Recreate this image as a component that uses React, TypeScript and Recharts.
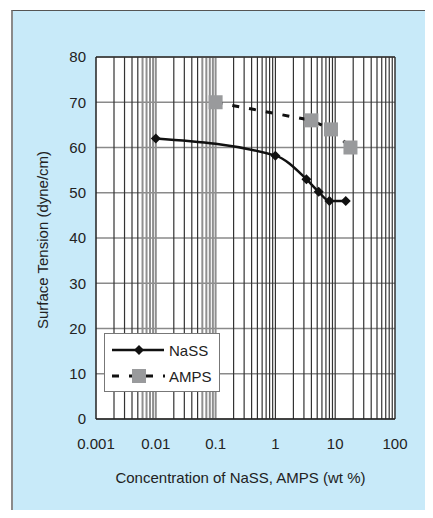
import { LineChart, Line, XAxis, YAxis, CartesianGrid, ReferenceLine } from 'recharts';

// Surface tension vs. concentration
const nassConc = [0.01, 1, 3.3, 5.3, 8, 15];
const nassTension = [62, 58.2, 53, 50.2, 48.2, 48.2];
const ampsConc = [0.1, 4, 8.5, 18];
const ampsTension = [70, 66, 64, 60];

const xTicks = [0.001, 0.01, 0.1, 1, 10, 100];
const yTicks = [0, 10, 20, 30, 40, 50, 60, 70, 80];
const decades = [0.001, 0.01, 0.1, 1, 10];
const multipliers = [2, 3, 4, 5, 6, 7, 8, 9];

const nassData = nassConc.map((x, i) => ({ x, nass: nassTension[i] }));
const ampsData = ampsConc.map((x, i) => ({ x, amps: ampsTension[i] }));

// minor log gridlines; the scanned original has some of them in a thick grey
const gridLines = decades.flatMap((d) => [
  ...multipliers.map((m) => ({ x: +(d * m).toPrecision(3), grey: d < 0.1 && m >= 6 })),
  ...(d > 0.001 ? [{ x: d, grey: d < 1 }] : []),
]);

const font = 'Liberation Sans, Arial, Helvetica, sans-serif';

const Diamond = ({ cx, cy }: any) =>
  cx == null ? null : <polygon points={`${cx},${cy - 5} ${cx + 5},${cy} ${cx},${cy + 5} ${cx - 5},${cy}`} fill="#111" />;

const Square = ({ cx, cy }: any) =>
  cx == null ? null : <rect x={cx - 7} y={cy - 7} width={14} height={14} fill="#999a9c" />;

const LegendBox = () => (
  <div style={{ position: 'absolute', left: 104, top: 333, background: '#fff', border: '1.5px solid #777', width: 116, height: 59, boxSizing: 'border-box', fontFamily: font, fontSize: 15, color: '#222' }}>
    <div style={{ display: 'flex', alignItems: 'center', height: 28, marginTop: 2 }}>
      <svg width={64} height={14}>
        <line x1={7} y1={7} x2={59} y2={7} stroke="#111" strokeWidth={2.5} />
        <polygon points="34,2 39,7 34,12 29,7" fill="#111" />
      </svg>
      <span>NaSS</span>
    </div>
    <div style={{ display: 'flex', alignItems: 'center', height: 24 }}>
      <svg width={64} height={16}>
        <line x1={7} y1={8} x2={60} y2={8} stroke="#111" strokeWidth={3} strokeDasharray="7 10" />
        <rect x={27} y={1} width={14} height={14} fill="#999a9c" />
      </svg>
      <span>AMPS</span>
    </div>
  </div>
);

export default function App() {
  return (
    <div style={{ position: 'relative', width: 433, height: 518, margin: -8, overflow: 'hidden', background: '#fff' }}>
      <div style={{ position: 'absolute', left: 11, top: 10, width: 440, height: 520, background: '#c8eaf9', borderLeft: '2px solid #8a8a8a', borderTop: '1px solid #555' }} />
      <div style={{ position: 'absolute', left: 0, top: 0 }}>
        <LineChart width={433} height={518} margin={{ top: 57, right: 38, bottom: 69, left: 0 }}>
          <CartesianGrid vertical={false} fill="#fff" stroke="#8a8a8a" strokeWidth={1.5} />
          {gridLines.map((g) => (
            <ReferenceLine key={g.x} x={g.x} stroke={g.grey ? '#8f8f8f' : '#333'} strokeWidth={g.grey ? 2 : 1.2} ifOverflow="hidden" />
          ))}
          <ReferenceLine y={80} stroke="#333" strokeWidth={1.5} />
          <ReferenceLine x={100} stroke="#333" strokeWidth={1.5} />
          <XAxis
            dataKey="x"
            type="number"
            scale="log"
            domain={[0.001, 100]}
            ticks={xTicks}
            allowDataOverflow
            height={30}
            tickLine={false}
            tickSize={0}
            tickMargin={19}
            axisLine={{ stroke: '#222', strokeWidth: 1.5 }}
            tick={{ fill: '#222', fontSize: 15, fontFamily: font }}
            tickFormatter={(v: number) => String(v)}
          />
          <YAxis
            type="number"
            domain={[0, 80]}
            ticks={yTicks}
            width={96}
            tickLine={false}
            tickSize={0}
            tickMargin={10}
            axisLine={{ stroke: '#222', strokeWidth: 1.5 }}
            tick={{ fill: '#222', fontSize: 15, fontFamily: font }}
          />
          <Line
            data={nassData}
            dataKey="nass"
            type="monotone"
            stroke="#111"
            strokeWidth={2.5}
            dot={<Diamond />}
            activeDot={false}
            isAnimationActive={false}
          />
          <Line
            data={ampsData}
            dataKey="amps"
            type="linear"
            stroke="#111"
            strokeWidth={3}
            strokeDasharray="7 10"
            dot={<Square />}
            activeDot={false}
            isAnimationActive={false}
          />
        </LineChart>
      </div>
      <LegendBox />
      <div style={{ position: 'absolute', left: 0, width: 481, top: 469, textAlign: 'center', fontFamily: font, fontSize: 15, color: '#222', whiteSpace: 'nowrap' }}>
        Concentration of NaSS, AMPS (wt %)
      </div>
      <div style={{ position: 'absolute', left: 42, top: 240, transform: 'translate(-50%, -50%) rotate(-90deg)', fontFamily: font, fontSize: 15, color: '#222', whiteSpace: 'nowrap' }}>
        Surface Tension (dyne/cm)
      </div>
    </div>
  );
}
